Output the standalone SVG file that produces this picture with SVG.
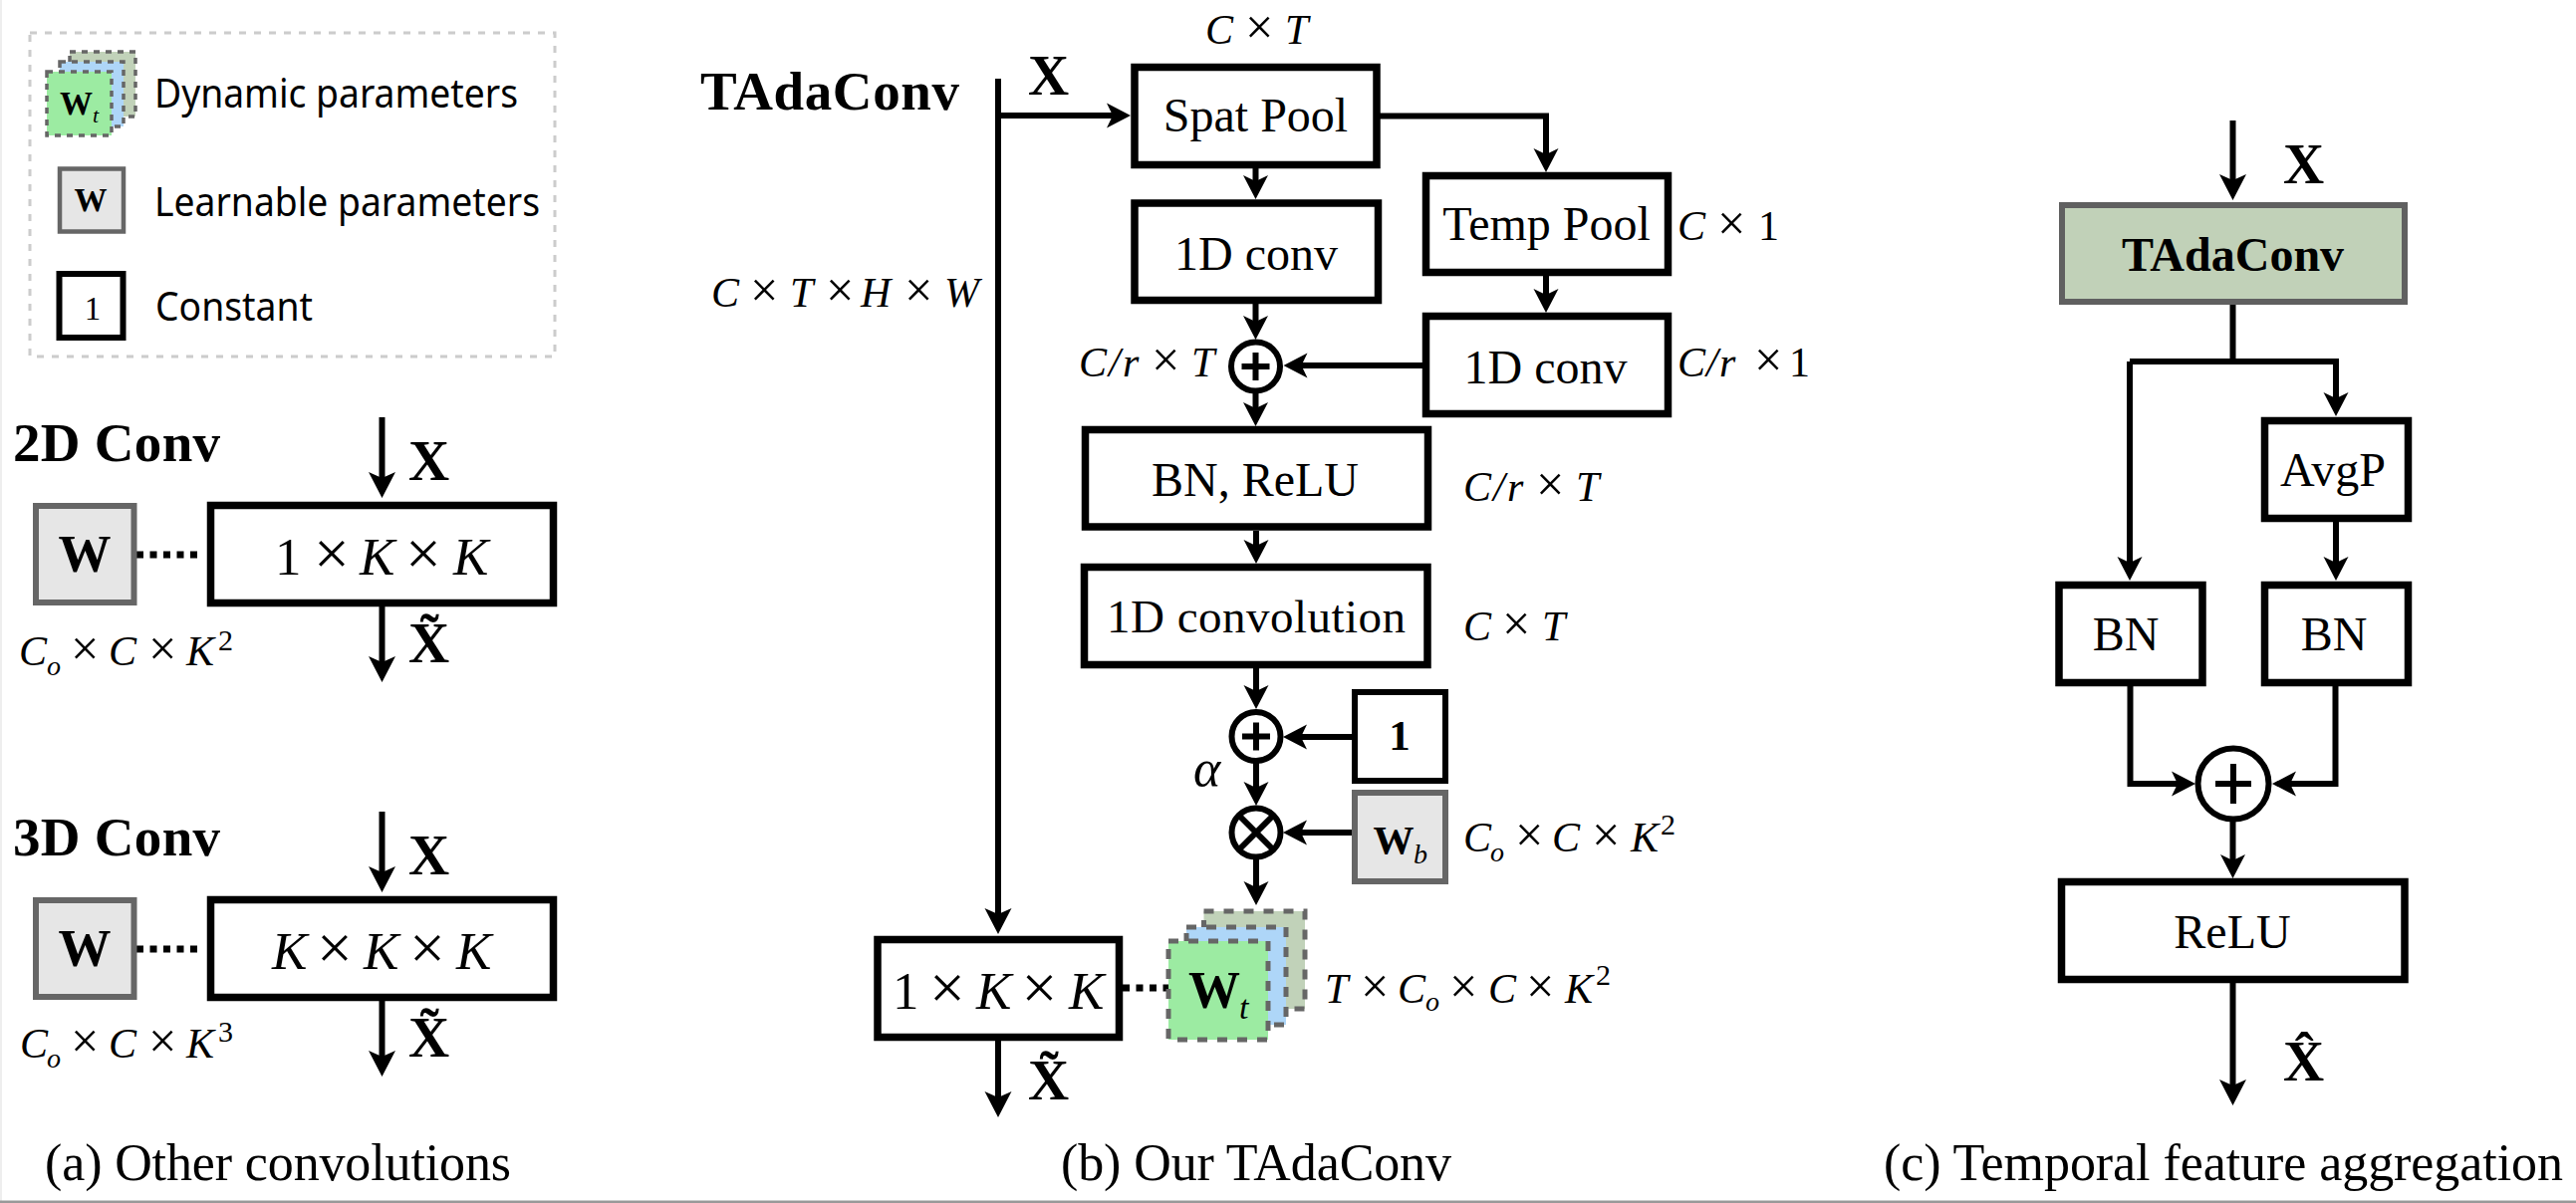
<svg xmlns="http://www.w3.org/2000/svg" width="2586" height="1208" viewBox="0 0 2586 1208">
<style>
text{font-family:"Liberation Serif",serif;fill:#000}
.lg{font-family:"Noto Sans","DejaVu Sans",sans-serif;font-size:40px}
.b{fill:#fff;stroke:#000;stroke-width:7.5}
.g{fill:#e6e6e6;stroke:#666;stroke-width:6}
.c{fill:none;stroke:#000;stroke-width:6}
.a{marker-end:url(#h)}
.A{marker-end:url(#H)}
.d{fill:none;stroke:#000;stroke-width:7;stroke-dasharray:7 6.5}
.ds{stroke:#666;stroke-width:5;stroke-dasharray:10 10}
.dl{stroke:#666;stroke-width:3.5;stroke-dasharray:6 6}
.s1{fill:#c1d2b9}.s2{fill:#aed6f8}.s3{fill:#9ceba2}
.t{font-size:48px;text-anchor:middle}
.B{font-weight:bold}
.i{font-style:italic}
.x{font-size:1.2em;font-style:normal}
.cap{font-size:52px}
.ttl{font-size:55px;font-weight:bold}
.X{font-size:57px;font-weight:bold}
.m{font-size:42px}
.sub{font-size:28px;font-style:italic}
.sup{font-size:30px}
.big{font-size:53px}
</style>
<defs>
<marker id="h" markerUnits="userSpaceOnUse" markerWidth="26" markerHeight="28" viewBox="0 -14 26 28" refX="16" refY="0" orient="auto"><path d="M0,-12.5L24,0L0,12.5L6,0Z" fill="#000"/></marker>
<marker id="H" markerUnits="userSpaceOnUse" markerWidth="28" markerHeight="30" viewBox="0 -15 28 30" refX="18" refY="0" orient="auto"><path d="M0,-13.5L26,0L0,13.5L6,0Z" fill="#000"/></marker>
</defs>
<rect x="0" y="0" width="2586" height="1208" fill="#fff"/>
<rect x="0" y="0" width="2" height="1208" fill="#eee"/>
<rect x="0" y="1205.500" width="2586" height="2.500" fill="#999"/>

<g id="connectors">
<path class="c A" d="M383.500,419V492"/>
<path class="c A" d="M383.500,609V677"/>
<path class="c A" d="M383.500,815V888"/>
<path class="c A" d="M383.500,1005V1073"/>
<path class="d" d="M137,557H204"/>
<path class="d" d="M137,953H204"/>
<path class="c A" d="M1002,79V930"/>
<path class="c a" d="M1002,116H1127"/>
<path class="c a" d="M1260.500,169V192"/>
<path class="c a" d="M1385,116.500H1552V165"/>
<path class="c a" d="M1260.500,305V333"/>
<path class="c a" d="M1552,277V306"/>
<path class="c a" d="M1428,367H1296.500"/>
<path class="c a" d="M1260.500,395V420"/>
<path class="c a" d="M1261,533V558"/>
<path class="c a" d="M1261,671V704"/>
<path class="c a" d="M1357,740H1296"/>
<path class="c a" d="M1261,766V801"/>
<path class="c a" d="M1357,836H1296"/>
<path class="c a" d="M1261,860V901"/>
<path class="d" d="M1127,992H1173"/>
<path class="c A" d="M1002,1045V1114"/>
<path class="c A" d="M2241.500,121V193"/>
<path class="c" d="M2241.500,306V363"/>
<path class="c a" d="M2138,363V575"/>
<path class="c a" d="M2138,363H2345V410"/>
<path class="c a" d="M2345,524V575"/>
<path class="c a" d="M2138.500,689V787H2196"/>
<path class="c a" d="M2344.500,689V787H2289"/>
<path class="c a" d="M2241.500,825V874"/>
<path class="c A" d="M2241.500,987V1102"/>
</g>

<g id="legend">
<rect x="30" y="33" width="527" height="325" fill="none" stroke="#ccc" stroke-width="3" stroke-dasharray="7 8"/>
<g id="legend-dynamic">
<rect class="s1 dl" x="70" y="52" width="66" height="65"/>
<rect class="s2 dl" x="60" y="62" width="64" height="65"/>
<rect class="s3 dl" x="47" y="72" width="65" height="64"/>
<text x="60" y="115" font-size="33" class="B">W</text><text x="93" y="123" font-size="22" class="i">t</text>
<text class="lg" x="155" y="108" textLength="365" lengthAdjust="spacingAndGlyphs">Dynamic parameters</text>
</g>
<g id="legend-learnable">
<rect x="60" y="169.500" width="64" height="63" fill="#e6e6e6" stroke="#666" stroke-width="4.500"/>
<text x="91" y="212" font-size="33" class="B" text-anchor="middle">W</text>
<text class="lg" x="155" y="217" textLength="387" lengthAdjust="spacingAndGlyphs">Learnable parameters</text>
</g>
<g id="legend-constant">
<rect x="59.500" y="275" width="64" height="64" fill="#fff" stroke="#000" stroke-width="6"/>
<text x="93" y="321" font-size="33" text-anchor="middle">1</text>
<text class="lg" x="156" y="322" textLength="158" lengthAdjust="spacingAndGlyphs">Constant</text>
</g>
</g>

<g id="conv2d">
<text class="ttl" x="13" y="463" textLength="208">2D Conv</text>
<rect class="g" x="36" y="508" width="98.500" height="97"/>
<text class="B big" x="85" y="574" text-anchor="middle">W</text>
<rect class="b" x="211.500" y="507.500" width="344" height="98"/>
<text class="big" y="577"><tspan x="276">1</tspan><tspan class="x" x="315">×</tspan><tspan class="i" x="361">K</tspan><tspan class="x" x="407">×</tspan><tspan class="i" x="455">K</tspan></text>
<text class="X" x="410" y="482">X</text>
<text class="X" x="410" y="665">X̃</text>
<text class="m" y="668"><tspan class="i" x="19">C</tspan><tspan class="sub" x="47" y="678">o</tspan><tspan class="x" x="71" y="668">×</tspan><tspan class="i" x="109">C</tspan><tspan class="x" x="149">×</tspan><tspan class="i" x="187">K</tspan><tspan class="sup" x="219" y="653">2</tspan></text>
</g>

<g id="conv3d">
<text class="ttl" x="13" y="859" textLength="208">3D Conv</text>
<rect class="g" x="36" y="904" width="98.500" height="97"/>
<text class="B big" x="85" y="970" text-anchor="middle">W</text>
<rect class="b" x="211.500" y="903.500" width="344" height="98"/>
<text class="big" y="973"><tspan class="i" x="273">K</tspan><tspan class="x" x="318">×</tspan><tspan class="i" x="365">K</tspan><tspan class="x" x="411">×</tspan><tspan class="i" x="458">K</tspan></text>
<text class="X" x="410" y="878">X</text>
<text class="X" x="410" y="1061">X̃</text>
<text class="m" y="1062"><tspan class="i" x="20">C</tspan><tspan class="sub" x="47" y="1072">o</tspan><tspan class="x" x="71" y="1062">×</tspan><tspan class="i" x="109">C</tspan><tspan class="x" x="149">×</tspan><tspan class="i" x="187">K</tspan><tspan class="sup" x="219" y="1046">3</tspan></text>
</g>
<text class="cap" id="caption-a" x="45" y="1185" textLength="468">(a) Other convolutions</text>

<g id="tadaconv">
<text class="ttl" x="703" y="110" textLength="260">TAdaConv</text>
<text class="X" x="1032" y="95">X</text>
<text class="m" y="308"><tspan class="i" x="714">C</tspan><tspan class="x" x="753">×</tspan><tspan class="i" x="793">T</tspan><tspan class="x" x="829">×</tspan><tspan class="i" x="864">H</tspan><tspan class="x" x="908">×</tspan><tspan class="i" x="948">W</tspan></text>
</g>
<g id="spat-pool">
<rect class="b" x="1139" y="67.500" width="243" height="98"/>
<text class="t" x="1260.500" y="132">Spat Pool</text>
<text class="m" y="44"><tspan class="i" x="1210">C</tspan><tspan class="x" x="1250">×</tspan><tspan class="i" x="1290">T</tspan></text>
</g>
<g id="conv1d-a">
<rect class="b" x="1139" y="204" width="244.500" height="97.500"/>
<text class="t" x="1261" y="271">1D conv</text>
</g>
<g id="temp-pool">
<rect class="b" x="1431.500" y="176.500" width="243" height="97"/>
<text class="t" x="1552.500" y="241">Temp Pool</text>
<text class="m" y="241"><tspan class="i" x="1684">C</tspan><tspan class="x" x="1724">×</tspan><tspan x="1765">1</tspan></text>
</g>
<g id="conv1d-b">
<rect class="b" x="1431.500" y="317.500" width="243" height="98"/>
<text class="t" x="1551.500" y="385">1D conv</text>
<text class="m" y="378"><tspan class="i" x="1684">C</tspan><tspan class="i" x="1713">/</tspan><tspan class="i" x="1726">r</tspan><tspan class="x" x="1761">×</tspan><tspan x="1796">1</tspan></text>
</g>
<g id="add-1">
<circle cx="1260.500" cy="368" r="24.500" fill="#fff" stroke="#000" stroke-width="6"/>
<path class="c" d="M1246.500,368h28M1260.500,354v28"/>
<text class="m" y="378"><tspan class="i" x="1083">C</tspan><tspan class="i" x="1113">/</tspan><tspan class="i" x="1127">r</tspan><tspan class="x" x="1156">×</tspan><tspan class="i" x="1196">T</tspan></text>
</g>
<g id="bn-relu">
<rect class="b" x="1089.500" y="431.500" width="344" height="97.500"/>
<text class="t" x="1260" y="498">BN, ReLU</text>
<text class="m" y="503"><tspan class="i" x="1469">C</tspan><tspan class="i" x="1499">/</tspan><tspan class="i" x="1513">r</tspan><tspan class="x" x="1542">×</tspan><tspan class="i" x="1582">T</tspan></text>
</g>
<g id="conv1d-main">
<rect class="b" x="1088.500" y="569.500" width="344.500" height="98"/>
<text class="t" x="1261" y="635" style="font-size:47px" textLength="300">1D convolution</text>
<text class="m" y="643"><tspan class="i" x="1469">C</tspan><tspan class="x" x="1508">×</tspan><tspan class="i" x="1548">T</tspan></text>
</g>
<g id="add-2">
<circle cx="1261" cy="739.500" r="24.500" fill="#fff" stroke="#000" stroke-width="6"/>
<path class="c" d="M1247,739.500h28M1261,725.500v28"/>
<text class="i" x="1198" y="789" font-size="52">α</text>
</g>
<g id="constant">
<rect x="1360" y="695" width="91" height="89" fill="#fff" stroke="#000" stroke-width="6"/>
<text class="B" x="1405" y="753" font-size="43" text-anchor="middle">1</text>
</g>
<g id="mul">
<circle cx="1261" cy="836" r="24.500" fill="#fff" stroke="#000" stroke-width="6"/>
<path class="c" d="M1244,819l34,34M1278,819l-34,34"/>
</g>
<g id="wb">
<rect class="g" x="1360" y="796" width="91" height="89"/>
<text class="B" x="1378.500" y="857" font-size="41">W</text><text class="sub i" x="1419" y="867">b</text>
<text class="m" y="855"><tspan class="i" x="1469">C</tspan><tspan class="sub" x="1496" y="865">o</tspan><tspan class="x" x="1521" y="855">×</tspan><tspan class="i" x="1558">C</tspan><tspan class="x" x="1598">×</tspan><tspan class="i" x="1637">K</tspan><tspan class="sup" x="1667" y="838">2</tspan></text>
</g>
<g id="wt">
<rect class="s1 ds" x="1208.500" y="915" width="101.500" height="98"/>
<rect class="s2 ds" x="1191" y="931" width="100" height="98"/>
<rect class="s3 ds" x="1173" y="945" width="100" height="99"/>
<text class="B" x="1193" y="1012" font-size="52">W</text><text class="i" x="1244" y="1023" font-size="34">t</text>
<text class="m" y="1007"><tspan class="i" x="1330">T</tspan><tspan class="x" x="1366">×</tspan><tspan class="i" x="1403">C</tspan><tspan class="sub" x="1431" y="1015">o</tspan><tspan class="x" x="1455" y="1007">×</tspan><tspan class="i" x="1494">C</tspan><tspan class="x" x="1532">×</tspan><tspan class="i" x="1571">K</tspan><tspan class="sup" x="1602" y="989">2</tspan></text>
</g>
<g id="conv-out">
<rect class="b" x="881" y="943.500" width="242.500" height="98"/>
<text class="big" y="1012.500"><tspan x="896">1</tspan><tspan class="x" x="933">×</tspan><tspan class="i" x="980">K</tspan><tspan class="x" x="1025.500">×</tspan><tspan class="i" x="1073">K</tspan></text>
<text class="X" x="1032" y="1104">X̃</text>
</g>
<text class="cap" id="caption-b" x="1065" y="1185" textLength="392">(b) Our TAdaConv</text>

<g id="tfa">
<text class="X" x="2292" y="184">X</text>
<g id="tfa-tadaconv">
<rect x="2070" y="206" width="344" height="97" fill="#c1d1b8" stroke="#606060" stroke-width="6"/>
<text class="t B" x="2241.500" y="272">TAdaConv</text>
</g>
<g id="tfa-avgp">
<rect class="b" x="2273.500" y="422.500" width="144" height="98"/>
<text class="t" x="2342" y="488">AvgP</text>
</g>
<g id="tfa-bn-l">
<rect class="b" x="2067" y="587.500" width="144" height="98"/>
<text class="t" x="2134" y="653">BN</text>
</g>
<g id="tfa-bn-r">
<rect class="b" x="2273.500" y="587.500" width="144" height="98"/>
<text class="t" x="2343" y="653">BN</text>
</g>
<g id="tfa-add">
<circle cx="2242" cy="787" r="35.500" fill="#fff" stroke="#000" stroke-width="6"/>
<path class="c" d="M2224,787h36M2242,767v40"/>
</g>
<g id="tfa-relu">
<rect class="b" x="2069.500" y="885.500" width="344.500" height="98"/>
<text class="t" x="2241" y="952">ReLU</text>
</g>
<text class="X" x="2292" y="1085">X̂</text>
</g>
<text class="cap" id="caption-c" x="1891" y="1185" textLength="682">(c) Temporal feature aggregation</text>
</svg>
